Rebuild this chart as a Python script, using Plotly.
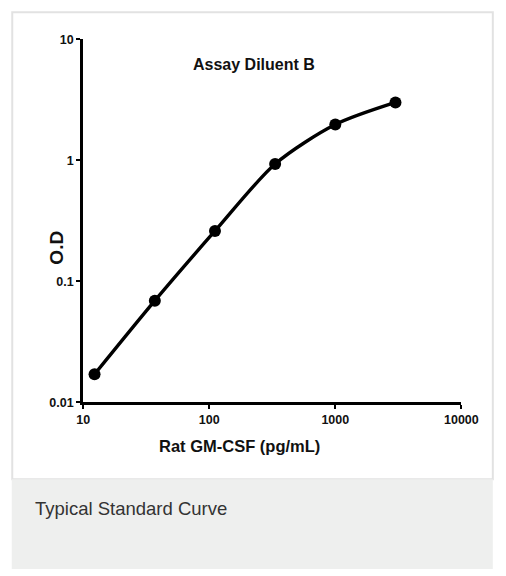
import plotly.graph_objects as go

concentration = [12.3, 37, 111, 333, 1000, 3000]
od = [0.017, 0.069, 0.26, 0.93, 1.97, 3.0]
x_ticks = [10, 100, 1000, 10000]
x_tick_labels = ["10", "100", "1000", "10000"]
y_ticks = [0.01, 0.1, 1, 10]
y_tick_labels = ["0.01", "0.1", "1", "10"]

W, H = 506, 576
SANS = "Liberation Sans, Arial, sans-serif"

def px(x):
    return x / W

def py(y):
    return 1 - y / H

fig = go.Figure()
fig.add_trace(go.Scatter(
    x=concentration, y=od, mode="lines+markers",
    line=dict(color="black", width=3.4, shape="spline", smoothing=0.8),
    marker=dict(color="black", size=12, symbol="circle"),
    showlegend=False, hoverinfo="skip",
))

axis_common = dict(
    type="log", showline=True, linecolor="black", linewidth=3,
    ticks="outside", ticklen=4, tickwidth=2, tickcolor="black",
    showgrid=False, zeroline=False, mirror=False,
    tickfont=dict(family=SANS, size=12.5, color="#111", weight="bold"),
)

fig.update_layout(
    width=W, height=H,
    margin=dict(l=0, r=0, t=0, b=0),
    paper_bgcolor="white", plot_bgcolor="white",
    xaxis=dict(axis_common, range=[1, 4], domain=[px(80), px(477)],
               tickvals=x_ticks, ticktext=x_tick_labels, anchor="y"),
    yaxis=dict(axis_common, range=[-2, 1], domain=[py(405), py(33)],
               tickvals=y_ticks, ticktext=y_tick_labels, anchor="x"),
    shapes=[
        dict(type="rect", xref="paper", yref="paper",
             x0=px(5.5), x1=px(510), y0=py(484), y1=py(5.5),
             line=dict(color="#e2e2e2", width=2), fillcolor="rgba(0,0,0,0)", layer="below"),
        dict(type="rect", xref="paper", yref="paper",
             x0=px(5), x1=px(510), y0=py(576), y1=py(484),
             line=dict(width=0), fillcolor="#eeefee", layer="below"),
    ],
    annotations=[
        dict(text="Assay Diluent B", xref="paper", yref="paper",
             x=px(259), y=py(48), showarrow=False,
             font=dict(family=SANS, size=16, color="#111", weight="bold")),
        dict(text="O.D", xref="paper", yref="paper", textangle=-90,
             x=px(39), y=py(247), showarrow=False,
             font=dict(family=SANS, size=19, color="#111", weight="bold")),
        dict(text="Rat GM-CSF (pg/mL)", xref="paper", yref="paper",
             x=px(244), y=py(461), showarrow=False,
             font=dict(family=SANS, size=16.5, color="#111", weight="bold")),
        dict(text="Typical Standard Curve", xref="paper", yref="paper",
             x=px(27), y=py(527), xanchor="left", showarrow=False,
             font=dict(family=SANS, size=18.5, color="#333")),
    ],
)

post = """
document.documentElement.style.margin='0';
document.documentElement.style.overflow='hidden';
document.body.style.margin='0';
document.body.style.overflow='hidden';
"""

fig.write_html("out.html", post_script=post, config={"displayModeBar": False})
